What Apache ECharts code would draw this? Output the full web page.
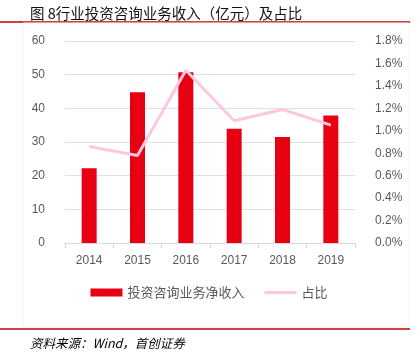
<!DOCTYPE html>
<html>
<head>
<meta charset="utf-8">
<script src="https://cdn.jsdelivr.net/npm/echarts@6/dist/echarts.min.js"></script>
<style>
    html, body { margin: 0; padding: 0; background: #fff; }
    #chart { width: 418px; height: 354px; }
</style>
</head>
<body>
<div id="chart"></div>
<script>
const years = ['2014', '2015', '2016', '2017', '2018', '2019']
const income = [22.2, 44.8, 50.7, 33.9, 31.5, 37.9]
const share = [0.86, 0.78, 1.54, 1.09, 1.19, 1.05]
const leftTicks = { min: 0, max: 60, interval: 10 }
const rightTicks = { min: 0, max: 1.8, interval: 0.2 }

const chart = echarts.init(document.getElementById('chart'))
const font = '"Liberation Sans", "Noto Sans CJK SC", sans-serif'

chart.setOption({
    animation: false,
    textStyle: { fontFamily: font },
    title: [
        {
            text: '图 8行业投资咨询业务收入（亿元）及占比',
            left: 25,
            top: 1,
            textStyle: { fontSize: 14.5, fontWeight: 'normal', color: '#111', fontFamily: '"Noto Sans CJK SC", sans-serif' }
        },
        {
            text: '资料来源：Wind，首创证券',
            left: 25,
            top: 332,
            textStyle: { fontSize: 12.5, fontWeight: 'normal', fontStyle: 'italic', color: '#000', fontFamily: '"Noto Sans CJK SC", sans-serif' }
        }
    ],
    graphic: [
        { type: 'line', shape: { x1: 0, y1: 22, x2: 410, y2: 22 }, style: { stroke: '#c00000', lineWidth: 1.5 } },
        { type: 'line', shape: { x1: 0, y1: 329, x2: 410, y2: 329 }, style: { stroke: '#c00000', lineWidth: 1.5 } },
        { type: 'rect', shape: { x: 23, y: 23, width: 386, height: 304 }, style: { fill: 'none', stroke: '#f2f2f2', lineWidth: 1 } }
    ],
    legend: {
        bottom: 50,
        left: 'center',
        itemGap: 20,
        itemWidth: 32,
        itemHeight: 8,
        textStyle: { color: '#595959', fontSize: 13, fontFamily: '"Noto Sans CJK SC", sans-serif' },
        data: [
            { name: '投资咨询业务净收入', icon: 'rect' },
            { name: '占比', icon: 'path://M0,0H32V3H0Z', itemStyle: { color: '#ffc7df' } }
        ]
    },
    grid: { left: 65, right: 63, top: 41, bottom: 111 },
    xAxis: {
        type: 'category',
        data: years,
        axisLine: { lineStyle: { color: '#d9d9d9' } },
        axisTick: { show: true, lineStyle: { color: '#d9d9d9' } },
        axisLabel: { color: '#595959', fontSize: 12, margin: 12 }
    },
    yAxis: [
        {
            type: 'value',
            ...leftTicks,
            axisLine: { show: false },
            axisTick: { show: false },
            axisLabel: { color: '#595959', fontSize: 12, margin: 20 },
            splitLine: { lineStyle: { color: '#e0e0e0' } }
        },
        {
            type: 'value',
            ...rightTicks,
            position: 'right',
            axisLine: { show: false },
            axisTick: { show: false },
            splitLine: { show: false },
            axisLabel: {
                color: '#595959',
                fontSize: 12,
                margin: 20,
                formatter: v => v.toFixed(1) + '%'
            }
        }
    ],
    series: [
        {
            name: '投资咨询业务净收入',
            type: 'bar',
            data: income,
            barWidth: 15,
            itemStyle: { color: '#e60012' }
        },
        {
            name: '占比',
            type: 'line',
            yAxisIndex: 1,
            data: share,
            symbol: 'none',
            lineStyle: { color: '#ffc7df', width: 3 },
            itemStyle: { color: '#ffc7df' }
        }
    ]
})
</script>
</body>
</html>
